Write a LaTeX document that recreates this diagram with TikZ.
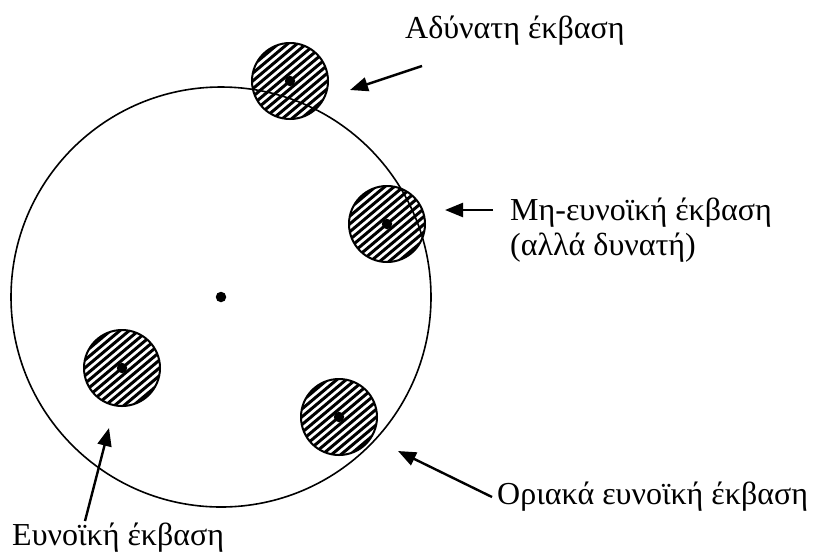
\documentclass[tikz,border=0pt]{standalone}
\usepackage{fontspec}
\setmainfont{Liberation Serif}
\usetikzlibrary{arrows.meta,calc}
\tikzset{
  lbl/.style={font=\fontsize{32}{36}\selectfont, inner sep=0pt, anchor=west},
  arr/.style={line width=2.4pt, -{Triangle[length=18pt,width=14pt]}},
  dotc/.style={circle, fill=black, inner sep=0pt, minimum size=10.5pt},
}
\newcommand{\hatchdisk}[2]{%
  \begin{scope}
    \clip (#1) circle (38);
    \begin{scope}[rotate around={40:(#1)}]
      \foreach \k in {-8,...,8} {
        \draw[line width=3pt] ($(#1)+(-50,\k*6)$) -- ($(#1)+(50,\k*6)$);
      }
    \end{scope}
  \end{scope}
  \draw[line width=2pt] (#1) circle (38);
  \node[dotc] (#2) at (#1) {};
}
\begin{document}
\begin{tikzpicture}[x=1pt,y=-1pt]
\useasboundingbox (0,0) rectangle (813,558);
\coordinate (C) at (221,297);
\coordinate (A) at (290,81);
\coordinate (B) at (387,224);
\coordinate (E) at (122,368);
\coordinate (O) at (339,417);
\hatchdisk{A}{dA}
\hatchdisk{B}{dB}
\hatchdisk{E}{dE}
\hatchdisk{O}{dO}
\draw[line width=1.6pt] (C) circle (210);
\node[dotc] (dC) at (C) {};
% labels
\node[lbl] (tA) at (405,31) {Αδύνατη έκβαση};
\node[lbl] (tB) at (510,213) {Μη-ευνοϊκή έκβαση};
\node[lbl] (tB2) at (510,248) {(αλλά δυνατή)};
\node[lbl] (tO) at (497,497) {Οριακά ευνοϊκή έκβαση};
\node[lbl] (tE) at (12,538) {Ευνοϊκή έκβαση};
% arrows
\coordinate (a1) at (422,66); \coordinate (a2) at (350,90);
\coordinate (b1) at (493,210); \coordinate (b2) at (445,210);
\coordinate (o1) at (492,497); \coordinate (o2) at (398,451);
\coordinate (e1) at (85,521); \coordinate (e2) at (109,428);
\draw[arr] (a1) -- (a2);
\draw[arr] (b1) -- (b2);
\draw[arr] (o1) -- (o2);
\draw[arr] (e1) -- (e2);
\end{tikzpicture}
\end{document}
